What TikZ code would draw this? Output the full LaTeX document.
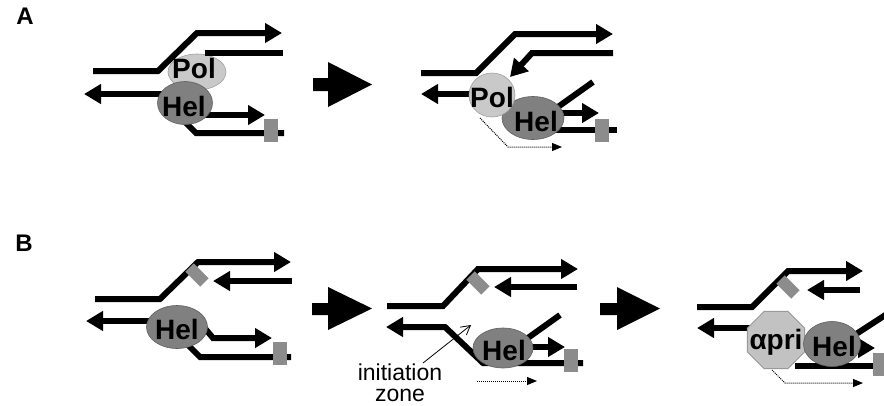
\documentclass[tikz,border=0pt]{standalone}
\usepackage{fontspec}
\setmainfont{Liberation Sans}
\usetikzlibrary{arrows.meta,shapes.geometric}
\tikzset{
  strand/.style={line width=6pt, line join=miter},
  arr/.style={strand, -{Triangle[length=17pt,width=19pt]}},
  dotarr/.style={line width=1pt, densely dotted, -{Triangle[length=10pt,width=8pt]}},
  polnode/.style={ellipse, fill=gray!42, draw=gray!75, line width=0.6pt, inner sep=0pt},
  helnode/.style={ellipse, fill=gray!100, draw=gray!75!black, line width=0.6pt, inner sep=0pt},
  label/.style={font=\fontsize{28}{30}\selectfont\bfseries, inner sep=0pt},
  endbox/.style={rectangle, fill=gray!90, inner sep=0pt, minimum width=14pt, minimum height=23pt},
  primerbox/.style={rectangle, fill=gray!90, inner sep=0pt, minimum width=21pt, minimum height=12pt, rotate=-45},
  bigarrow/.style={fill=black},
  panel/.style={font=\fontsize{24}{26}\selectfont\bfseries, inner sep=0pt},
}
\begin{document}
\begin{tikzpicture}[x=1pt,y=-1pt]
\useasboundingbox (0,0) rectangle (884,405);
\clip (0,0) rectangle (884,405);

% panel letters
\node[panel] (labA) at (25,16) {A};
\node[panel] (labB) at (24,243) {B};

% ================= Panel A left =================
\node[polnode, minimum width=58pt, minimum height=36pt] (polA1) at (197,72) {};
\draw[strand] (205,53) -- (283,53);
\draw[arr] (93,71) -- (158,71) -- (197,33) -- (282,33);
\draw[arr] (170,94) -- (84,94);
\draw[arr] (195,115) -- (265,115);
\draw[strand] (184,121) -- (196,133) -- (284,133);
\node[endbox] (boxA1) at (271,130) {};
\node[helnode, minimum width=55pt, minimum height=43pt] (helA1) at (185,103) {};
\node[label] at (194,68) {Pol};
\node[label] at (184,106) {Hel};

% big arrow A
\fill[bigarrow] (313,78) -- (328,78) -- (328,62) -- (372,84.5) -- (328,107) -- (328,91) -- (313,91) -- cycle;

% ================= Panel A right =================
\draw[arr] (421,73) -- (476,73) -- (515,34) -- (613,34);
\draw[arr] (613,53) -- (532,53) -- (510,77);
\draw[arr] (480,94) -- (421,94);
\draw[dotarr] (480,118) -- (508,147) -- (562,147);
\draw[strand] (548,114) -- (593,82);
\draw[arr] (550,113) -- (599,113);
\draw[strand] (550,130) -- (617,130);
\node[endbox] (boxA2) at (602,130) {};
\node[helnode, minimum width=62pt, minimum height=43pt] (helA2) at (533,118) {};
\node[polnode, minimum width=46pt, minimum height=44pt] (polA2) at (492,95) {};
\node[label] at (492,97) {Pol};
\node[label] at (536,121) {Hel};

% ================= Panel B1 =================
\draw[arr] (95,299) -- (160,299) -- (198,262) -- (291,262);
\node[primerbox] (prB1) at (197,275) {};
\draw[arr] (292,281) -- (213,281);
\draw[arr] (160,321) -- (86,321);
\draw[arr] (198,320) -- (213,338) -- (272,338);
\draw[strand] (185,342) -- (200,357) -- (291,357);
\node[endbox] (boxB1) at (280,353) {};
\node[helnode, minimum width=61pt, minimum height=43pt] (helB1) at (177,327) {};
\node[label] at (177,329) {Hel};

% big arrow B1
\fill[bigarrow] (312,303) -- (328,303) -- (328,287) -- (372,308.5) -- (328,330) -- (328,315) -- (312,315) -- cycle;

% ================= Panel B2 =================
\draw[arr] (387,306) -- (443,306) -- (478,269) -- (578,269);
\node[primerbox] (prB2) at (478,283) {};
\draw[arr] (577,287) -- (494,287);
\draw[arr] (583,363) -- (483,363) -- (445,327) -- (386,327);
\draw[strand] (525,340) -- (560,315);
\draw[arr] (528,347) -- (565,347);
\node[endbox] (boxB2) at (571,360) {};
\node[helnode, minimum width=60pt, minimum height=40pt] (helB2) at (503,348) {};
\node[label] at (504,350) {Hel};
\draw[dotarr] (477,381) -- (537,381);
\node[font=\fontsize{23}{21}\selectfont, align=center, inner sep=0pt] (izone) at (400,383) {initiation\\zone};
\coordinate (izTip) at (471,325);
\draw[line width=0.8pt, -{Straight Barb[length=9pt,width=10pt]}] (423,363) -- (izTip);

% big arrow B2
\fill[bigarrow] (600,303) -- (617,303) -- (617,287) -- (660,308.5) -- (617,330) -- (617,315) -- (600,315) -- cycle;

% ================= Panel B3 =================
\draw[arr] (697,307) -- (752,307) -- (788,271) -- (863,271);
\node[primerbox] (prB3) at (788,287) {};
\draw[arr] (860,290) -- (807,290);
\draw[arr] (760,328) -- (697,328);
\draw[dotarr] (772,370) -- (785,383) -- (863,383);
\draw[strand] (850,338) -- (890,312);
\draw[arr] (850,348) -- (875,348);
\draw[strand] (795,366) -- (884,366);
\node[endbox] (boxB3) at (880,364) {};
\node[regular polygon, regular polygon sides=8, fill=gray!48, draw=gray!80, line width=0.8pt, minimum size=62pt, inner sep=0pt] (pri) at (776,340) {};
\node[helnode, minimum width=57pt, minimum height=45pt] (helB3) at (832,344) {};
\node[label] at (776,342) {αpri};
\node[label] at (834,346) {Hel};
\end{tikzpicture}
\end{document}
